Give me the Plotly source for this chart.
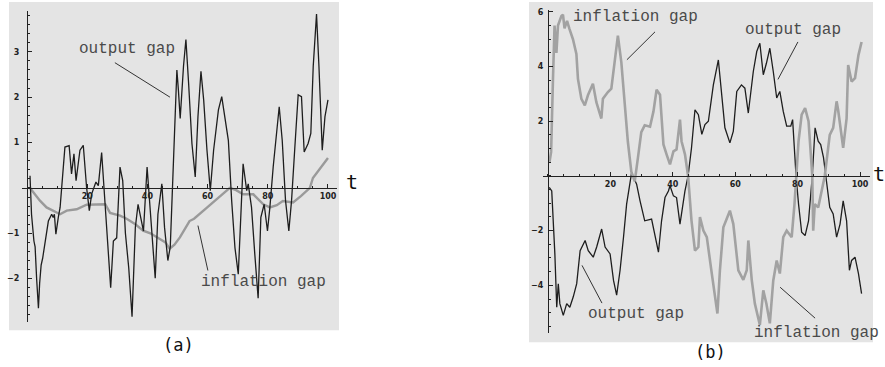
import plotly.graph_objects as go

# ---------------- data: panel (a) ----------------
a_out_t = [1.0, 1.5, 2.3, 2.7, 3.2, 3.8, 4.2, 4.7, 5.2, 6.0, 7.1, 8.2, 8.7, 9.1, 9.6, 10.4, 11.0,
           12.6, 14.0, 14.8, 15.6, 16.3, 17.6, 18.7, 19.8, 20.7, 21.5, 22.9, 23.7, 24.8, 25.6,
           26.7, 27.8, 28.7, 29.8, 30.9, 31.8, 32.7, 33.8, 34.9, 36.0, 36.9, 37.6, 38.7, 39.9,
           40.4, 41.3, 42.6, 43.5, 44.8, 45.7, 46.8, 47.6, 48.4, 49.8, 50.3, 50.9, 52.0, 52.8,
           53.7, 54.8, 55.9, 56.8, 57.8, 58.7, 59.8, 60.9, 62.0, 63.6, 64.7, 65.8, 66.9, 68.0,
           69.1, 70.2, 71.1, 71.8, 72.4, 73.0, 73.5, 74.6, 75.7, 76.8, 77.7, 78.8, 79.9, 80.7,
           81.8, 82.9, 83.8, 84.8, 85.9, 87.0, 87.9, 89.0, 90.1, 91.2, 92.1, 93.4, 94.3, 95.1,
           96.2, 97.0, 98.1, 99.0, 100.0]
a_out_v = [0.27, -0.58, -1.17, -1.3, -2.0, -2.65, -2.1, -1.7, -1.55, -1.17, -0.73, -0.58, -0.65,
           -0.58, -1.02, -0.65, -0.43, 0.9, 0.93, 0.31, 0.75, 0.16, 0.83, 0.94, 0.01, -0.5, -0.13,
           0.13, 0.05, 0.78, 0.0, -1.3, -2.2, -1.17, -1.1, 0.46, 0.16, -1.0, -1.76, -2.84, -0.87,
           -0.36, -0.58, -0.95, 0.46, 0.0, -1.0, -1.99, -0.58, 0.09, -0.87, -1.6, -1.3, 0.0, 2.6,
           2.16, 1.53, 2.68, 3.27, 2.3, 0.98, 0.24, 1.57, 2.57, 1.94, 0.83, -0.06, 0.83, 1.72,
           2.01, 1.57, 1.05, -0.28, -1.32, -1.9, -0.58, 0.53, 0.24, -0.06, 0.09, -0.43, -1.47,
           -2.43, -0.65, -0.36, -0.95, -0.43, 0.46, 1.2, 1.79, 1.05, -0.28, -0.95, -0.28, 0.9,
           2.05, 2.01, 0.79, 0.98, 1.2, 2.68, 3.83, 2.68, 0.83, 1.57, 1.94]

a_inf_t = [1, 2.5, 4.3, 6.5, 8.7, 11, 13.2, 16.5, 19.8, 23.1, 26.0, 27.6, 30.9, 33.1, 36, 38.6,
           41, 44, 46, 47.4, 49, 50.8, 52.5, 54, 55.5, 57.4, 59.5, 61.8, 64, 67.4, 69.5, 71.8,
           75.2, 78.5, 80.7, 83, 85, 88.4, 91, 94, 95, 97.4, 100]
a_inf_v = [0.0, -0.12, -0.28, -0.43, -0.5, -0.58, -0.5, -0.47, -0.37, -0.36, -0.36, -0.55, -0.61,
           -0.68, -0.8, -0.94, -1.0, -1.12, -1.2, -1.34, -1.25, -1.09, -0.9, -0.73, -0.68, -0.58,
           -0.45, -0.32, -0.2, 0.0, -0.05, -0.14, -0.14, -0.36, -0.43, -0.38, -0.29, -0.32,
           -0.18, 0.0, 0.22, 0.44, 0.66]

# ---------------- data: panel (b) ----------------
b_inf_t = [0.5, 1.0, 1.6, 2.1, 2.7, 3.2, 4.3, 4.8, 5.3, 6.1, 6.9, 8.0, 9.1, 9.6, 10.7, 11.8, 12.8,
           14.4, 15.5, 17.1, 17.6, 19.2, 20.3, 21.4, 22.4, 23.5, 24.6, 25.6, 26.7, 27.8, 28.8,
           29.9, 31.0, 32.7, 33.8, 34.8, 35.9, 37.0, 38.0, 39.1, 40.2, 41.2, 42.3, 42.8, 43.9,
           44.9, 46.0, 47.1, 48.2, 48.7, 49.8, 50.9, 52.5, 54.3, 55.1, 56.2, 58.3, 59.4, 61.0,
           62.6, 63.7, 64.2, 65.3, 66.3, 67.9, 69.0, 70.0, 71.1, 72.2, 73.3, 74.3, 75.4, 76.5,
           78.1, 79.0, 79.5, 80.3, 81.3, 82.4, 83.5, 84.2, 84.7, 85.0, 85.5, 86.6, 87.7, 88.7,
           90.3, 91.4, 92.5, 93.0, 94.6, 95.7, 96.2, 97.3, 98.4, 99.5, 100.5]
b_inf_v = [0.52, 0.88, 3.55, 5.5, 4.5, 5.5, 5.85, 5.9, 5.4, 5.67, 5.37, 5.0, 4.46, 3.55, 2.82,
           2.58, 2.95, 3.37, 2.7, 2.1, 2.82, 3.07, 3.19, 4.16, 5.13, 4.16, 2.7, 1.25, 0.16, -0.2,
           0.64, 1.6, 1.85, 1.8, 2.36, 3.15, 2.97, 1.15, 0.79, 0.42, 0.9, 0.97, 2.06, 1.27, 0.79,
           0.0, -1.64, -2.73, -2.6, -1.5, -2.0, -2.24, -3.57, -5.03, -3.45, -1.88, -1.27, -1.76,
           -3.45, -3.8, -3.45, -2.36, -3.8, -4.67, -5.45, -4.18, -4.67, -5.39, -3.82, -3.09,
           -3.57, -2.24, -2.0, -2.24, -1.03, 0.0, 1.27, 2.24, 2.48, 2.0, 0.55, 0.0, -2.0, -1.03,
           -1.15, -0.55, 0.0, 1.5, 1.76, 2.73, 2.4, 1.03, 2.1, 4.06, 3.45, 3.58, 4.42, 4.9]

b_out_t = [0.4, 1.2, 2.2, 2.8, 3.3, 3.8, 4.9, 6.0, 7.0, 8.1, 9.2, 10.3, 11.9, 12.9, 14.5, 15.6,
           17.2, 18.3, 19.9, 21.0, 22.0, 23.1, 24.2, 25.2, 26.8, 28.4, 29.5, 31.0, 33.2, 34.3,
           35.4, 36.4, 37.5, 38.6, 39.1, 40.2, 41.2, 42.3, 43.9, 44.9, 46.0, 47.1, 48.2, 49.3,
           50.3, 51.4, 53.0, 54.6, 55.7, 56.7, 58.3, 59.4, 60.5, 62.0, 63.1, 64.2, 65.8, 66.9,
           67.9, 69.0, 70.0, 71.1, 72.2, 73.3, 74.3, 75.4, 76.5, 77.8, 78.4, 79.0, 79.5, 80.3,
           81.3, 82.4, 83.5, 84.7, 85.6, 86.6, 87.4, 88.3, 89.1, 90.3, 91.4, 92.5, 93.6, 94.6,
           95.7, 96.6, 97.3, 98.4, 99.5, 100.5]
b_out_v = [-0.42, -0.55, -2.85, -4.8, -3.94, -4.67, -5.1, -4.67, -4.8, -4.42, -3.94, -2.73, -2.36,
           -2.73, -2.97, -2.6, -1.94, -2.6, -2.85, -3.82, -4.36, -3.45, -2.24, -1.03, 0.12, -0.3,
           -0.91, -1.64, -1.58, -2.24, -2.79, -1.64, -0.79, -0.55, -0.36, -0.73, -0.79, -1.76,
           -0.55, 0.0, 1.03, 2.42, 2.24, 1.52, 1.88, 2.0, 3.33, 4.24, 2.85, 1.76, 1.21, 1.64,
           3.09, 3.33, 3.21, 2.3, 3.82, 4.55, 4.85, 3.7, 4.12, 4.67, 3.82, 2.85, 3.09, 2.36,
           1.82, 1.82, 2.06, 0.79, 0.0, -1.03, -2.06, -2.18, -1.64, 0.0, 1.76, 1.27, 1.15, 0.67,
           0.0, -1.15, -1.39, -2.24, -1.76, -0.91, -1.64, -3.45, -3.09, -2.97, -3.57, -4.3]

a_yticks = [-2, -1, 1, 2, 3]
b_yticks = [-4, -2, 2, 4, 6]
x_ticks = [20, 40, 60, 80, 100]

W, H = 885, 367
BG = "#e4e4e4"
BLACK = "#1e1e1e"
GRAY = "#9a9a9a"
TXT = "#4a4a4a"


def px(x):
    return x / W


def py(y):
    return 1 - y / H


fig = go.Figure()
fig.add_trace(go.Scatter(x=a_inf_t, y=a_inf_v, mode="lines", line=dict(color=GRAY, width=2.4),
                         xaxis="x", yaxis="y", showlegend=False))
fig.add_trace(go.Scatter(x=a_out_t, y=a_out_v, mode="lines", line=dict(color=BLACK, width=1.3),
                         xaxis="x", yaxis="y", showlegend=False))
fig.add_trace(go.Scatter(x=b_out_t, y=b_out_v, mode="lines", line=dict(color=BLACK, width=1.3),
                         xaxis="x2", yaxis="y2", showlegend=False))
fig.add_trace(go.Scatter(x=b_inf_t, y=b_inf_v, mode="lines", line=dict(color="#a2a2a2", width=2.6),
                         xaxis="x2", yaxis="y2", showlegend=False))

tickfont = dict(family="DejaVu Sans", size=8, color="#222", weight="bold")
common_x = dict(anchor="free", showline=True, linecolor="#222", linewidth=1.2, ticks="inside",
                ticklen=4, tickcolor="#222", tickvals=x_ticks, tickfont=tickfont,
                showgrid=False, zeroline=False, fixedrange=True,
                minor=dict(ticks="inside", ticklen=2, dtick=5, tick0=0, tickcolor="#222", showgrid=False))
common_y = dict(anchor="free", showline=True, linecolor="#222", linewidth=1.2, ticks="inside",
                ticklen=4, tickcolor="#222", tickfont=tickfont,
                showgrid=False, zeroline=False, fixedrange=True)

fig.update_layout(
    width=W, height=H, margin=dict(l=0, r=0, t=0, b=0),
    paper_bgcolor="white", plot_bgcolor="rgba(0,0,0,0)",
    xaxis=dict(domain=[px(22), px(337)], range=[-1.66, 103.0], position=py(187), **common_x),
    yaxis=dict(domain=[py(322), py(9)], range=[-2.96, 3.90], position=px(27), tickvals=a_yticks,
               ticklabelstandoff=6,
               minor=dict(ticks="inside", ticklen=2, dtick=0.2, tick0=0, tickcolor="#222", showgrid=False),
               **common_y),
    xaxis2=dict(domain=[px(543), px(870)], range=[-1.6, 103.2], position=py(175), **common_x),
    yaxis2=dict(domain=[py(333), py(8)], range=[-5.75, 6.07], position=px(548), tickvals=b_yticks,
                ticklabelstandoff=3,
                minor=dict(ticks="inside", ticklen=2, dtick=0.5, tick0=0, tickcolor="#222", showgrid=False),
                **common_y),
)

shapes = [
    dict(type="rect", xref="paper", yref="paper", x0=px(9), x1=px(339), y0=py(330), y1=py(0),
         fillcolor=BG, line=dict(width=0), layer="below"),
    dict(type="rect", xref="paper", yref="paper", x0=px(529), x1=px(873), y0=py(342), y1=py(0),
         fillcolor=BG, line=dict(width=0), layer="below"),
    # leader lines (a)
    dict(type="line", xref="x", yref="y", x0=29.2, y0=2.76, x1=47.5, y1=2.0, line=dict(color="#333", width=1)),
    dict(type="line", xref="x", yref="y", x0=56.8, y0=-0.83, x1=60.1, y1=-1.82, line=dict(color="#333", width=1)),
    # leader lines (b)
    dict(type="line", xref="x2", yref="y2", x0=34.3, y0=5.27, x1=25.3, y1=4.25, line=dict(color="#333", width=1)),
    dict(type="line", xref="x2", yref="y2", x0=80.1, y0=4.9, x1=73.7, y1=3.53, line=dict(color="#333", width=1)),
    dict(type="line", xref="x2", yref="y2", x0=10.9, y0=-3.27, x1=17.3, y1=-4.65, line=dict(color="#333", width=1)),
    dict(type="line", xref="x2", yref="y2", x0=74.4, y0=-4.07, x1=85.6, y1=-5.2, line=dict(color="#333", width=1)),
]
fig.update_layout(shapes=shapes)

lab = dict(family="Liberation Mono", size=16, color=TXT)
c = dict(showarrow=False, xanchor="center", yanchor="middle")
ann = [
    dict(x=33.2, y=3.07, xref="x", yref="y", text="output gap", font=lab, **c),
    dict(x=78.7, y=-2.08, xref="x", yref="y", text="inflation gap", font=lab, **c),
    dict(x=28.2, y=5.82, xref="x2", yref="y2", text="inflation gap", font=lab, **c),
    dict(x=78.5, y=5.35, xref="x2", yref="y2", text="output gap", font=lab, **c),
    dict(x=28.2, y=-5.05, xref="x2", yref="y2", text="output gap", font=lab, **c),
    dict(x=86.2, y=-5.75, xref="x2", yref="y2", text="inflation gap", font=lab, **c),
    dict(x=px(352), y=py(181), xref="paper", yref="paper", text="t",
         font=dict(family="DejaVu Sans Mono", size=20, color="#111"), **c),
    dict(x=px(879), y=py(173), xref="paper", yref="paper", text="t",
         font=dict(family="DejaVu Sans Mono", size=20, color="#111"), **c),
    dict(x=px(178), y=py(345), xref="paper", yref="paper", text="(a)",
         font=dict(family="DejaVu Sans Mono", size=17, color="#111"), **c),
    dict(x=px(710), y=py(352), xref="paper", yref="paper", text="(b)",
         font=dict(family="DejaVu Sans Mono", size=17, color="#111"), **c),
]
fig.update_layout(annotations=ann)

fig.write_html("out.html")
